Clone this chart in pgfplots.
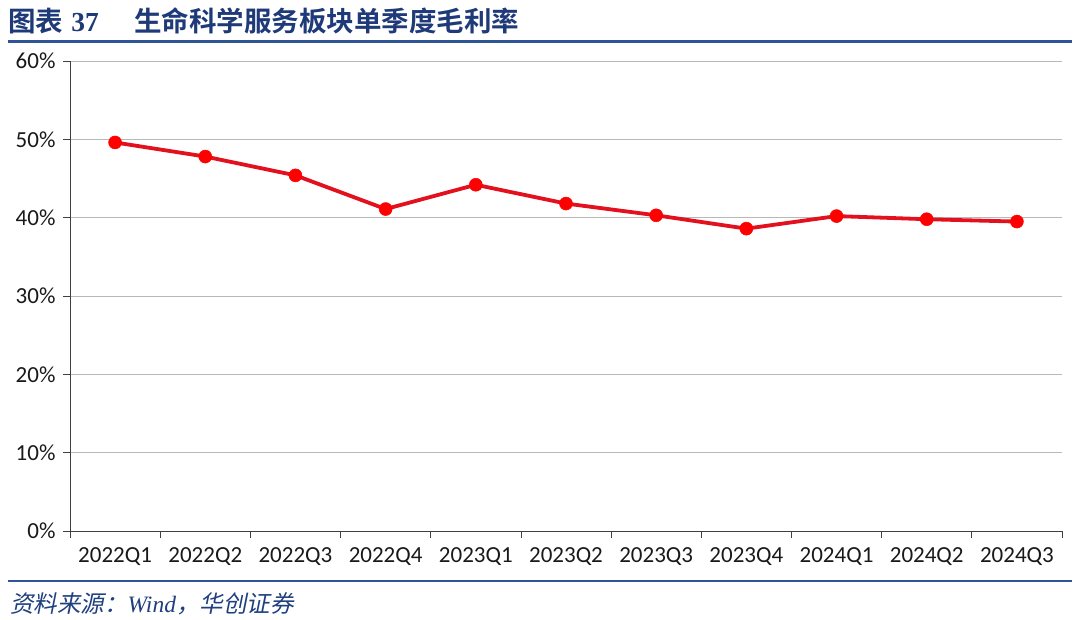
\documentclass[border=0pt]{standalone}
\usepackage{pgfplots}
\pgfplotsset{compat=1.18}
\usepackage{fontspec}
\setmainfont{Carlito}
\newfontfamily\cjkb{Noto Sans CJK SC Bold}
\newfontfamily\cjkit{Noto Sans CJK SC}[FakeSlant=0.2]
\newfontfamily\serifit{Liberation Serif}
\definecolor{titleblue}{HTML}{1F3A78}
\definecolor{lineblue}{HTML}{2F5597}
\definecolor{srcblue}{HTML}{1F3F7F}
\definecolor{redline}{HTML}{E3101E}
\definecolor{redmark}{HTML}{FF0000}
\begin{document}
\begin{tikzpicture}
\path (0pt,0pt) rectangle (1080pt,620pt);
\node[anchor=west,text=titleblue,inner sep=0pt] at (8pt,599pt) {\fontsize{27.5}{30}\selectfont\cjkb 图表\hspace{0.3em}\bfseries\serifit\upshape 37};
\node[anchor=west,text=titleblue,inner sep=0pt] at (134pt,599pt) {\fontsize{27.5}{30}\selectfont\cjkb 生命科学服务板块单季度毛利率};
\draw[lineblue,line width=3pt] (8pt,578pt) -- (1072pt,578pt);
\draw[lineblue,line width=2.5pt] (8pt,39pt) -- (1072pt,39pt);
\node[anchor=west,text=srcblue,inner sep=0pt] at (10pt,16pt) {\fontsize{23.5}{26}\selectfont\cjkit 资料来源：{\serifit\itshape Wind}，华创证券};
\begin{axis}[
  at={(70pt,89pt)}, anchor=south west,
  scale only axis, width=992pt, height=470pt,
  xmin=-0.5, xmax=10.5, ymin=0, ymax=60,
  axis x line*=bottom, axis y line*=left,
  axis line style={black!75, line width=0.8pt},
  xtick={0,...,10},
  xticklabels={2022Q1,2022Q2,2022Q3,2022Q4,2023Q1,2023Q2,2023Q3,2023Q4,2024Q1,2024Q2,2024Q3},
  minor xtick={-0.5,0.5,...,10.5},
  x tick style={draw=none},
  minor x tick style={draw=black!75, line width=0.8pt},
  ytick={0,10,...,60},
  y tick style={draw=black!75, line width=0.8pt},
  tick align=outside,
  major tick length=7pt, minor tick length=7pt,
  yticklabel={\pgfmathprintnumber{\tick}\%},
  /pgf/number format/assume math mode=true,
  ymajorgrids, grid style={draw=black!28, line width=0.9pt},
  tick label style={font=\fontsize{23}{26}\selectfont, text=black!90},
  xticklabel style={yshift=-6pt},
  yticklabel style={xshift=-4pt},
  clip=false,
]
\addplot[redline, line width=3.8pt, mark=*, mark size=6.5pt, mark options={fill=redmark, draw=redmark, line width=0.5pt}]
  coordinates {(0,49.6) (1,47.8) (2,45.4) (3,41.1) (4,44.2) (5,41.8) (6,40.3) (7,38.6) (8,40.2) (9,39.8) (10,39.5)};
\end{axis}
\end{tikzpicture}
\end{document}
